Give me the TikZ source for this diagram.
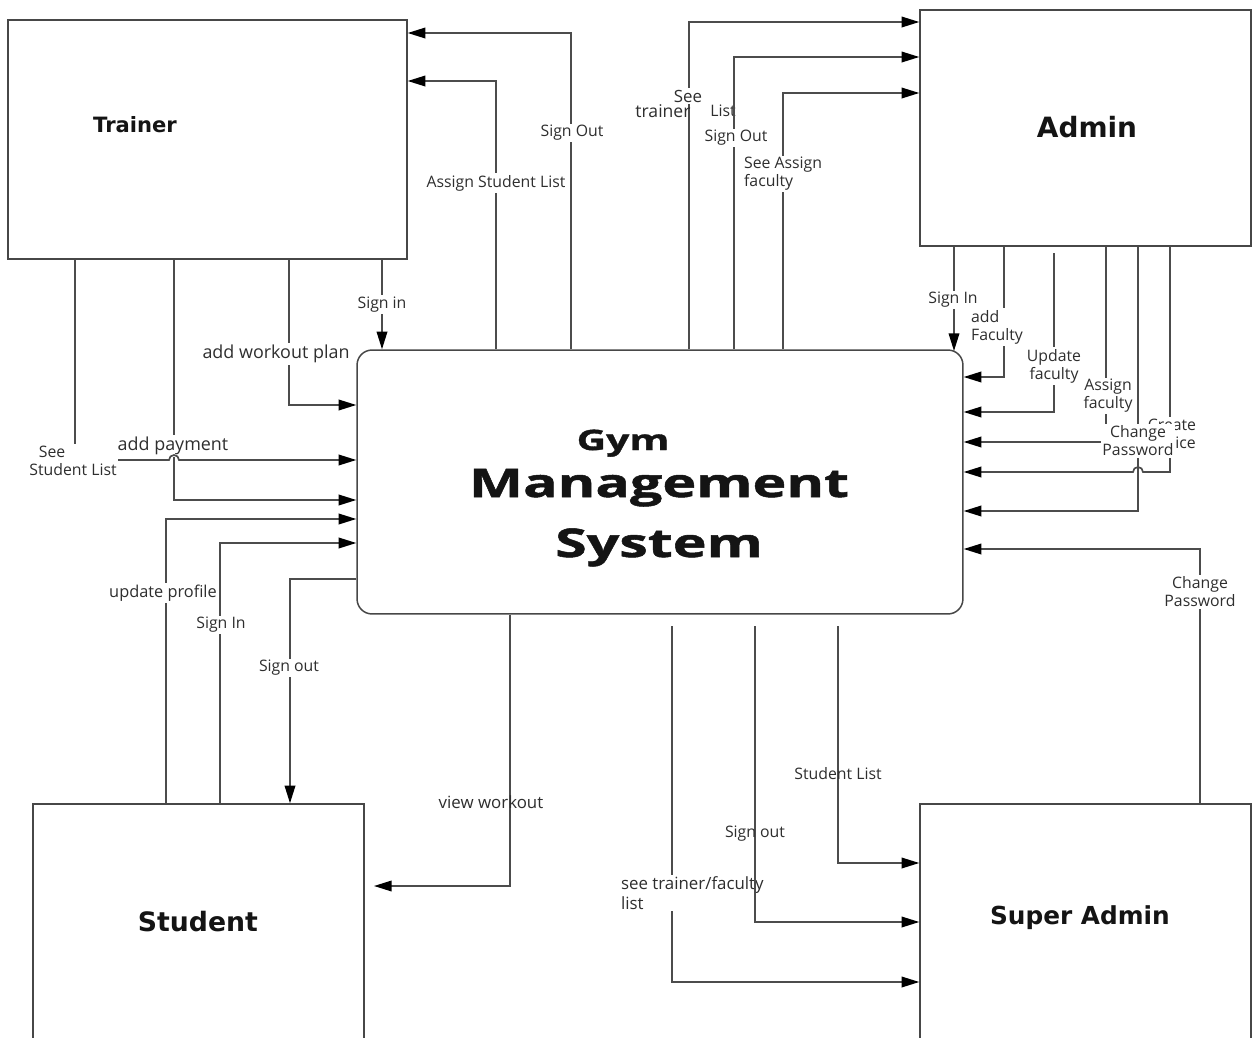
\documentclass[tikz,border=0pt]{standalone}
\usepackage{fontspec}
\setmainfont{Open Sans}
\newfontfamily\titlefont[FakeStretch=1.45,FakeBold=1.3]{Open Sans}
\newfontfamily\entfont{DejaVu Sans}
\usetikzlibrary{arrows.meta,calc}
\begin{document}
\begin{tikzpicture}[x=0.02cm,y=-0.02cm,
  conn/.style={draw=black!70,line width=0.95pt},
  arr/.style={conn,-{Triangle[length=10pt,width=6pt,color=black]}},
  lbl/.style={font=\fontsize{9}{10.2}\selectfont,text=black!82,fill=white,inner sep=1pt,align=center},
  nlbl/.style={lbl,fill=none},
  ent/.style={draw=black!72,line width=0.85pt,rectangle,inner sep=0pt},
  entname/.style={text=black!92,inner sep=0pt}]
\useasboundingbox (0,0) rectangle (1252,1038);
\clip (0,0) rectangle (1252,1038);
\fill[white] (0,0) rectangle (1252,1038);

% entities
\node[ent,minimum width=7.98cm,minimum height=4.78cm] (trainer) at (207.5,139.5) {};
\node[entname,anchor=base,font=\entfont\bfseries\fontsize{12}{14}\selectfont] (trainerT) at (135,132) {Trainer};
\node[ent,minimum width=6.62cm,minimum height=4.72cm] (admin) at (1085.5,128) {};
\node[entname,anchor=base,font=\entfont\bfseries\fontsize{15.9}{19}\selectfont] (adminT) at (1087,137) {Admin};
\node[ent,minimum width=6.62cm,minimum height=5.12cm] (student) at (198.5,932) {};
\node[entname,anchor=base,font=\entfont\bfseries\fontsize{15.2}{18}\selectfont] (studentT) at (198,931) {Student};
\node[ent,minimum width=6.62cm,minimum height=5.12cm] (super) at (1085.5,932) {};
\node[entname,anchor=base,font=\entfont\bfseries\fontsize{14.1}{17}\selectfont] (superT) at (1080,924) {Super Admin};

\node[ent,rounded corners=0.3cm,minimum width=12.12cm,minimum height=5.28cm] (gms) at (660,482) {};
\node[entname,anchor=base,font=\titlefont\bfseries\fontsize{16}{18}\selectfont] (gmsA) at (623,450) {Gym};
\node[entname,anchor=base,font=\titlefont\bfseries\fontsize{22.5}{26}\selectfont] (gmsB) at (659,497) {Management};
\node[entname,anchor=base,font=\titlefont\bfseries\fontsize{22.5}{26}\selectfont] (gmsC) at (659,557) {System};

% free ends
\coordinate (uf) at (1054,253);
\coordinate (sl) at (838,626);
\coordinate (stf) at (672,626);
\coordinate (so) at (755,626);
\coordinate (vw) at (374,886);

% ---- Trainer -> system
\draw[arr] (382,0 |- trainer.south) -- (382,0 |- gms.north) node[lbl,pos=0.5] {Sign in};
\draw[arr] (289,0 |- trainer.south) -- (289,405) -- (gms.west |- 0,405);
\node[lbl,font=\fontsize{10.2}{12}\selectfont] at (276,354) {add workout plan};
\draw[arr] (174,0 |- trainer.south) -- (174,500) -- (gms.west |- 0,500);
\node[lbl,font=\fontsize{10.2}{12}\selectfont] at (173,446) {add payment};
\draw[arr] (75,0 |- trainer.south) -- (75,460) -- (169,460) arc[start angle=180,end angle=360,radius=5] -- (gms.west |- 0,460);
\node[lbl,align=left] at (73,461) {\hspace*{0.6em}See\\Student List};

% ---- system -> Trainer
\draw[arr] (496,0 |- gms.north) -- (496,81) -- (trainer.east |- 0,81);
\node[lbl] at (496,183) {Assign Student List};
\draw[arr] (571,0 |- gms.north) -- (571,33) -- (trainer.east |- 0,33);
\node[lbl] at (572,133) {Sign Out};

% ---- system -> Admin
\draw[arr] (689,0 |- gms.north) -- (689,22) -- (admin.west |- 0,22);
\node[lbl,font=\fontsize{9.6}{11}\selectfont] at (688,96) {See};
\node[nlbl,font=\fontsize{10}{12}\selectfont] at (663,111) {trainer};
\node[nlbl] at (723,111) {List};
\draw[arr] (734,0 |- gms.north) -- (734,57) -- (admin.west |- 0,57);
\node[lbl] at (736,138) {Sign Out};
\draw[arr] (783,0 |- gms.north) -- (783,93) -- (admin.west |- 0,93);
\node[lbl,align=left,anchor=west] at (742,174) {See Assign\\faculty};

% ---- Admin -> system
\draw[arr] (954,0 |- admin.south) -- (954,351);
\node[lbl] at (953,300) {Sign In};
\draw[arr] (1004,0 |- admin.south) -- (1004,377) -- (gms.east |- 0,377);
\node[lbl,align=left,anchor=west] at (969,327) {add\\Faculty};
\draw[arr] (uf) -- (1054,412) -- (gms.east |- 0,412);
\node[lbl] at (1054,366) {Update\\faculty};
\draw[arr] (1106,0 |- admin.south) -- (1106,442) -- (gms.east |- 0,442);
\node[lbl] at (1108,396) {Assign\\faculty};
\draw[arr] (1170,0 |- admin.south) -- (1170,472) -- (1143,472) arc[start angle=0,end angle=-180,radius=5] -- (gms.east |- 0,472);
\node[lbl] at (1172,434) {Create\\Notice};
\draw[arr] (1138,0 |- admin.south) -- (1138,511) -- (gms.east |- 0,511);
\node[lbl] at (1138,441) {Change\\Password};

% ---- Super Admin
\draw[arr] (1200,0 |- super.north) -- (1200,549) -- (gms.east |- 0,549);
\node[lbl] at (1200,592) {Change\\Password};
\draw[arr] (sl) -- (838,863) -- (super.west |- 0,863);
\node[nlbl] at (838,774) {Student List};
\draw[arr] (stf) -- (672,982) -- (super.west |- 0,982);
\node[lbl,align=left,anchor=west,font=\fontsize{9.6}{11}\selectfont] at (619,893) {see trainer/faculty\\list};
\draw[arr] (so) -- (755,922) -- (super.west |- 0,922);
\node[nlbl] at (755,834) {Sign out};

% ---- Student
\draw[arr] (166,0 |- student.north) -- (166,519) -- (gms.west |- 0,519);
\node[lbl,font=\fontsize{9.3}{11}\selectfont] at (163,593) {update profile};
\draw[arr] (220,0 |- student.north) -- (220,543) -- (gms.west |- 0,543);
\node[lbl] at (221,625) {Sign In};
\draw[arr] (gms.west |- 0,579) -- (290,579) -- (290,0 |- student.north);
\node[lbl] at (289,668) {Sign out};
\draw[arr] (510,0 |- gms.south) -- (510,886) -- (vw);
\node[nlbl,font=\fontsize{9.6}{11}\selectfont] at (491,802) {view workout};
\end{tikzpicture}
\end{document}
